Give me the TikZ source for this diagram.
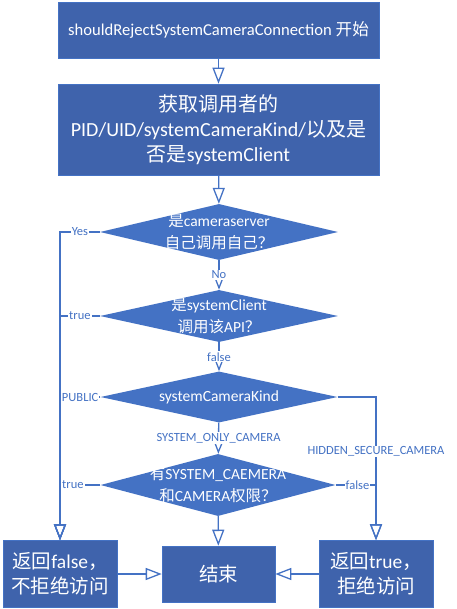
\documentclass[tikz,border=0pt]{standalone}
\usepackage{fontspec}
\setmainfont{Carlito}
\newfontfamily\cjk{Noto Sans CJK SC}
\newcommand{\zhtxt}[1]{{\cjk #1}}
\usetikzlibrary{shapes.geometric,arrows.meta,positioning}
\definecolor{boxblue}{HTML}{3F63AC}
\definecolor{diablue}{HTML}{4472C4}

\begin{document}
\begin{tikzpicture}[x=1pt, y=-1pt,
        box/.style={rectangle, draw=diablue, line width=0.6pt, fill=boxblue, text=white, align=center, inner sep=2pt, font=\fontsize{19.5}{25}\selectfont},
        dia/.style={diamond, fill=diablue, inner sep=0pt},
        diatext/.style={text=white, align=center, font=\fontsize{15.5}{22}\selectfont},
        flow/.style={draw=diablue, line width=1.3pt, -{Triangle[open, length=16pt, width=12pt]}},
        lab/.style={fill=white, text=diablue, inner sep=1pt, font=\fontsize{12.5}{14}\selectfont},
    ]
        \useasboundingbox (0,0) rectangle (456,609);

        % top boxes
        \node[box, minimum width=321pt, minimum height=56pt, font=\fontsize{16.6}{20}\selectfont] (start) at (218.5,30) {shouldRejectSystemCameraConnection \zhtxt{开始}};
        \node[box, minimum width=321pt, minimum height=91pt, font=\fontsize{20}{25}\selectfont] (info) at (218.5,129.5) {\zhtxt{获取调用者的}\\PID/UID/systemCameraKind/\zhtxt{以及是}\\\zhtxt{否是}systemClient};

        % decisions
        \node[dia, minimum width=238pt, minimum height=56pt, label={[diatext]center:{\zhtxt{是}cameraserver\\\zhtxt{自己调用自己？}}}] (self) at (219,232) {};
        \node[dia, minimum width=238pt, minimum height=52pt, label={[diatext]center:{\zhtxt{是}systemClient\\\zhtxt{调用该}API\zhtxt{？}}}] (client) at (219,316) {};
        \node[dia, minimum width=237pt, minimum height=51pt, label={[diatext]center:{systemCameraKind}}] (kind) at (219,397) {};
        \node[dia, minimum width=235pt, minimum height=62pt, label={[diatext]center:{\zhtxt{有}SYSTEM\_CAEMERA\\\zhtxt{和}CAMERA\zhtxt{权限？}}}] (perm) at (218,485) {};

        % results
        \node[box, minimum width=114pt, minimum height=67pt] (allow) at (60,574) {\zhtxt{返回}false\zhtxt{，}\\\zhtxt{不拒绝访问}};
        \node[box, minimum width=113pt, minimum height=56pt] (done) at (218.5,574) {\zhtxt{结束}};
        \node[box, minimum width=114pt, minimum height=67pt] (reject) at (376,574) {\zhtxt{返回}true\zhtxt{，}\\\zhtxt{拒绝访问}};

        % main flow
        \draw[flow] (start) -- (info);
        \draw[flow] (info) -- (self);
        \draw[flow] (self) -- node[lab] {No} (client);
        \draw[flow] (client) -- node[lab] {false} (kind);
        \draw[flow] (kind) -- node[lab] {SYSTEM\_ONLY\_CAMERA} (perm);
        \draw[flow] (perm) -- (done);

        % left branch
        \draw[flow] (self.west) -| node[lab, pos=0.25] {Yes} (allow.north);
        \draw[flow] (client.west) -| node[lab, pos=0.25] {true} (allow.north);
        \draw[flow] (kind.west) -| node[lab, pos=0.25] {PUBLIC} (allow.north);
        \draw[flow] (perm.west) -| node[lab, pos=0.34] {true} (allow.north);

        % right branch
        \draw[flow] (kind.east) -| node[lab, pos=0.69] {HIDDEN\_SECURE\_CAMERA} (reject.north);
        \draw[flow] (perm.east) -| node[lab, pos=0.27] {false} (reject.north);

        % into the end box
        \draw[flow] (allow) -- (done);
        \draw[flow] (reject) -- (done);
    \end{tikzpicture}
\end{document}
